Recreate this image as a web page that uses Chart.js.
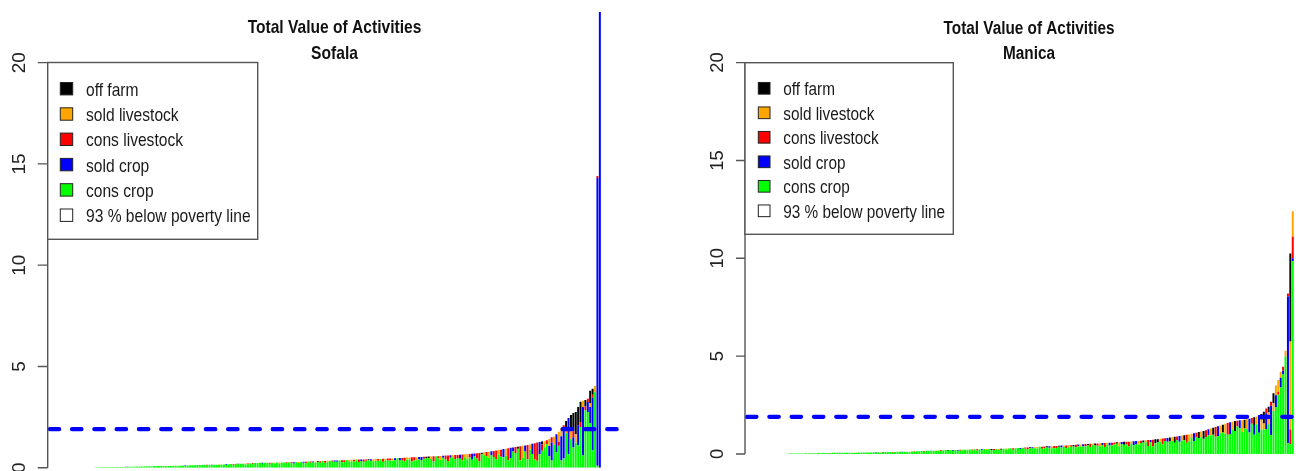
<!DOCTYPE html>
<html>
<head>
<meta charset="utf-8">
<script src="https://cdn.jsdelivr.net/npm/chart.js@4.4.1/dist/chart.umd.min.js"></script>
<style>
  html, body { margin: 0; padding: 0; background: #fff; overflow: hidden; }
  #wrap { position: relative; width: 1298px; height: 471px; overflow: hidden; }
  canvas { position: absolute; top: 0; }
  #sofala { left: 0; }
  #manica { left: 650px; }
</style>
</head>
<body>
<div id="wrap">
  <canvas id="sofala" width="649" height="471"></canvas>
  <canvas id="manica" width="680" height="471"></canvas>
</div>
<script>
// households sorted by total value, one bar each
const chartTitle = 'Total Value of Activities';
const regions = ['Sofala', 'Manica'];
const belowPovertyPct = [93, 93];
const povertyLine = 1.9;
const yTicks = [0, 5, 10, 15, 20];

// legend order (top to bottom) = stacking order reversed
const seriesNames = ['off farm', 'sold livestock', 'cons livestock', 'sold crop', 'cons crop'];
const seriesColors = ['#000000', '#FFA500', '#FF0000', '#0000FF', '#00FF00'];

// ---- Sofala ----
const sofalaConsCrop = [
  .02,.02,.02,.03,.03,.03,.03,.03,.04,.04,
  .04,.02,.05,.03,.05,.05,.05,.06,.06,.06,
  .06,.07,.07,.07,.08,.08,.08,.08,.09,.06,
  .09,.09,.10,.10,.07,.10,.11,.08,.11,.12,
  .12,.12,.13,.13,.13,.14,.11,.14,.12,.15,
  .15,.13,.16,.16,.13,.17,.18,.14,.19,.16,
  .20,.20,.17,.17,.22,.17,.23,.23,.24,.19,
  .24,.25,.19,.25,.21,.26,.21,.26,.26,.22,
  .27,.22,.21,.28,.23,.28,.24,.22,.30,.24,
  .26,.26,.28,.24,.33,.25,.27,.34,.29,.29,
  .29,.36,.27,.27,.38,.32,.31,.31,.40,.28,
  .33,.29,.34,.37,.34,.32,.33,.34,.43,.29,
  .36,.35,.35,.34,.37,.47,.38,.36,.31,.40,
  .40,.31,.36,.37,.41,.38,.44,.48,.47,.43,
  .31,.57,.45,.38,.49,.40,.30,.49,.52,.43,
  .48,.44,.35,.51,.42,.50,.39,.55,.46,.33,
  .66,.61,.58,.49,.61,.53,.40,.67,.54,.52,
  .59,.36,.48,.80,.72,.94,.36,.48,.80,.42,
  .90,.68,.41,.34,.67,.84,1.01,1.16,.57,.35,
  1.13,.75,1.08,.35,.45,1.70,.65,1.40,1.00,1.25,
  1.10,2.01,.60,2.84,2.75,2.20,.85,3.73,.10,0
];
const sofalaSoldCrop = [
  0,0,0,0,0,0,0,0,0,0,
  0,0,0,.02,0,0,0,0,0,0,
  0,0,0,0,0,0,0,0,0,0,
  0,0,0,0,0,0,0,.03,0,0,
  0,0,0,0,0,0,0,0,.03,0,
  0,0,0,0,.04,0,0,0,0,0,
  0,0,0,0,0,0,0,0,0,.05,
  0,0,0,0,0,0,0,0,0,0,
  0,0,.06,0,0,0,.05,0,0,0,
  .05,0,0,0,0,0,0,0,0,.06,
  .07,0,0,0,0,0,0,0,0,0,
  .08,0,0,0,.08,0,0,0,0,0,
  0,0,0,0,.10,0,.10,0,0,0,
  0,0,0,0,.12,.15,0,0,0,0,
  0,0,0,0,.10,0,0,.12,0,0,
  0,.20,0,0,0,0,.30,.15,0,0,
  0,0,0,0,.20,0,0,0,0,.40,
  0,0,.50,.20,0,0,0,0,.30,0,
  0,.50,0,0,.60,0,0,0,.50,.90,
  0,.90,0,1.2,1.5,0,1.8,0,.50,0,
  1.0,0,2.4,0,.50,.80,2.6,0,14.2,22.6
];
const sofalaConsLivestock = [
  0,0,0,0,0,0,0,0,0,0,
  0,.02,0,0,0,0,0,0,0,0,
  0,0,0,0,0,0,0,0,0,.03,
  0,0,0,0,0,0,0,0,0,0,
  0,0,0,0,0,0,.03,0,0,0,
  0,0,0,0,0,0,0,.04,0,0,
  0,0,0,.04,0,.05,0,0,0,0,
  0,0,.06,0,0,0,0,0,0,.05,
  0,.05,0,0,0,0,0,.07,0,.06,
  0,0,0,.08,0,.08,0,0,.06,0,
  0,0,.10,.10,0,0,0,.08,0,.12,
  0,.12,.07,0,0,0,0,.09,0,.15,
  0,.10,.10,0,0,0,0,.12,.18,0,
  0,.20,.15,0,0,0,.10,0,0,0,
  .25,0,.12,0,0,.20,.30,0,0,.20,
  .15,0,.30,0,0,.18,0,0,.25,.40,
  0,0,.20,0,0,.30,.45,0,.35,0,
  0,.60,0,0,.30,0,.70,0,0,.70,
  0,0,.80,.90,0,.30,0,.20,0,.25,
  0,0,.20,0,.15,0,0,0,.30,0,
  0,.25,0,.20,.15,0,.15,0,.10,0
];
const sofalaSoldLivestock = [
  0,0,0,0,0,0,0,0,0,0,
  0,0,0,0,0,0,0,0,0,0,
  0,0,0,0,0,0,0,0,0,0,
  0,0,0,0,.03,0,0,0,0,0,
  0,0,0,0,0,0,0,0,0,0,
  0,.03,0,0,0,0,0,0,0,0,
  0,0,.04,0,0,0,0,0,0,0,
  0,0,0,0,.04,0,.05,0,0,0,
  0,0,0,0,.05,0,0,0,0,0,
  0,.05,0,0,0,0,.07,0,0,0,
  0,0,0,0,0,.06,.08,0,0,0,
  0,0,0,0,0,.10,.10,0,0,0,
  .08,0,0,.12,0,0,0,0,0,.10,
  .10,0,0,.15,0,0,0,0,0,.12,
  0,0,0,.20,0,0,0,0,.10,0,
  0,0,0,.15,.25,0,0,0,0,0,
  0,.15,0,.30,0,0,0,.20,0,0,
  .35,0,0,0,0,0,0,.60,0,0,
  .25,0,0,0,0,0,.30,0,.35,0,
  .40,0,.50,.40,0,.30,0,.50,0,.40,
  0,0,.30,0,0,.20,0,.30,0,0
];
const sofalaOffFarm = [
  0,0,0,0,0,0,0,0,0,0,
  0,0,0,0,0,0,0,0,0,0,
  0,0,0,0,0,0,0,0,0,0,
  0,0,0,0,0,0,0,0,0,0,
  0,0,0,0,0,0,0,0,0,0,
  0,0,0,0,0,0,0,0,0,.03,
  0,0,0,0,0,0,0,0,0,0,
  0,0,0,0,0,0,0,0,0,0,
  0,0,0,0,0,0,0,0,0,0,
  0,0,.04,0,0,0,0,0,0,0,
  0,0,0,0,0,0,0,0,0,0,
  0,0,0,.05,0,0,0,0,0,0,
  0,0,0,0,0,0,0,0,0,0,
  0,0,0,0,0,0,0,.06,.08,0,
  0,0,0,0,0,0,0,0,0,0,
  0,0,0,0,0,0,0,0,0,0,
  .08,0,0,0,0,0,0,0,0,0,
  0,0,0,0,0,.10,0,0,0,0,
  0,0,0,0,0,.15,0,0,0,0,
  0,0,0,0,0,.30,0,.70,.90,1.1,
  .90,1.0,0,.30,0,.60,.30,0,0,0
];

// ---- Manica ----
const manicaConsCrop = [
  .02,.02,.03,.03,.02,.03,.03,.04,.03,.04,
  .04,.04,.05,.04,.05,.05,.05,.03,.06,.06,
  .06,.04,.06,.06,.07,.07,.07,.05,.07,.08,
  .08,.08,.06,.08,.08,.09,.07,.09,.07,.07,
  .10,.10,.10,.07,.10,.11,.11,.08,.12,.12,
  .09,.13,.10,.14,.14,.15,.12,.16,.16,.14,
  .17,.15,.18,.15,.19,.20,.17,.20,.17,.21,
  .17,.17,.22,.22,.19,.23,.18,.24,.18,.24,
  .19,.25,.20,.25,.21,.21,.26,.21,.22,.27,
  .23,.28,.29,.22,.30,.31,.25,.32,.27,.25,
  .30,.28,.29,.28,.37,.27,.30,.33,.32,.30,
  .29,.31,.37,.33,.36,.29,.35,.37,.38,.35,
  .40,.37,.38,.41,.45,.34,.45,.44,.42,.40,
  .46,.36,.47,.43,.43,.49,.52,.40,.51,.47,
  .48,.38,.52,.45,.51,.47,.56,.59,.60,.41,
  .60,.38,.55,.61,.63,.49,.66,.62,.64,.66,
  .58,.70,.62,.69,.71,.58,.65,.83,.66,.84,
  .82,.85,.78,.87,.96,.95,.99,.88,.92,1.06,
  1.10,1.05,.98,1.02,1.25,1.18,1.40,1.32,1.13,1.30,
  1.27,1.10,1.54,.98,1.52,1.08,1.25,1.26,1.28,1.52,
  .97,2.20,2.40,3.03,3.40,4.06,4.98,.55,.50,9.85
];
const manicaSoldCrop = [
  0,0,0,0,.01,0,0,0,0,0,
  0,0,0,0,0,0,0,0,0,0,
  0,.02,0,0,0,0,0,0,0,0,
  0,0,0,0,0,0,.02,0,0,0,
  0,0,0,0,0,0,0,.03,0,0,
  0,0,0,0,0,0,0,0,0,.03,
  0,0,0,0,0,0,0,0,.04,0,
  .04,0,0,0,0,0,0,0,0,0,
  .05,0,0,0,0,0,0,0,0,0,
  0,0,0,0,0,0,.06,0,0,0,
  0,.06,0,0,0,0,0,0,.07,0,
  0,0,0,.10,0,0,0,0,0,0,
  .08,0,.12,0,0,0,0,0,0,0,
  .10,0,0,.15,0,0,0,0,.10,0,
  0,0,0,.20,.15,0,0,0,0,0,
  .12,0,0,0,0,0,0,.20,0,0,
  0,0,.30,0,0,0,0,0,.40,0,
  0,0,0,0,.30,0,0,0,.50,0,
  0,0,0,.60,0,0,0,.40,0,0,
  0,.70,0,.50,0,.90,0,0,.80,0,
  1.5,0,.60,0,.50,.20,0,7.5,0,.15
];
const manicaConsLivestock = [
  0,0,0,0,0,0,0,0,.01,0,
  0,0,0,0,0,0,0,.02,0,0,
  0,0,0,0,0,0,0,0,0,0,
  0,0,.02,0,0,0,0,0,0,0,
  0,0,0,.03,0,0,0,0,0,0,
  0,0,.03,0,0,0,.03,0,0,0,
  0,0,0,.04,0,0,0,0,0,0,
  0,.05,0,0,0,0,.05,0,.06,0,
  0,0,0,0,0,.05,0,0,0,0,
  0,0,0,.07,0,0,0,0,.06,.08,
  0,0,0,0,0,.10,.08,0,0,0,
  .12,.10,0,0,0,.15,0,.08,0,.12,
  0,0,0,.10,0,.18,0,0,.12,0,
  0,.20,0,0,.15,.10,0,0,0,0,
  .15,.25,0,0,0,0,.12,0,0,.30,
  0,.35,0,0,0,.30,.15,0,0,0,
  0,.20,0,0,0,.40,0,0,0,.25,
  0,0,0,.35,0,0,0,.50,0,0,
  0,0,.60,0,0,0,.30,0,0,0,
  0,0,.30,0,0,0,0,0,.25,0,
  .20,0,0,.15,0,.20,0,.15,.75,1.1
];
const manicaSoldLivestock = [
  0,0,0,0,0,0,0,0,0,0,
  0,0,0,.01,0,0,0,0,0,0,
  0,0,0,0,0,0,0,.02,0,0,
  0,0,0,0,0,0,0,0,.02,0,
  0,0,0,0,0,0,0,0,0,0,
  .03,0,0,0,0,0,0,0,0,0,
  0,.03,0,0,0,0,0,0,0,0,
  0,0,0,0,.04,0,0,0,0,0,
  0,0,.05,0,0,0,0,.05,0,0,
  .05,0,0,0,0,0,0,0,0,0,
  0,0,.06,.08,0,0,0,0,0,.10,
  0,0,0,0,.07,0,.10,0,0,0,
  0,.12,0,0,0,0,.08,0,0,.15,
  0,0,.10,0,0,0,0,.20,0,0,
  0,0,.12,0,0,.20,0,0,.10,0,
  0,0,0,0,.15,0,0,0,0,.20,
  0,0,0,.25,0,0,.35,.20,0,0,
  0,.30,0,0,0,.35,0,0,0,.40,
  0,.50,0,0,.40,0,0,0,.60,0,
  .50,0,0,0,.40,0,.50,.30,0,.60,
  0,.40,.50,.60,.30,0,.30,0,4.5,1.3
];
const manicaOffFarm = [
  0,0,0,0,0,0,0,0,0,0,
  0,0,0,0,0,0,0,0,0,0,
  0,0,0,0,0,0,0,0,0,0,
  0,0,0,0,0,0,0,0,0,.02,
  0,0,0,0,0,0,0,0,0,0,
  0,0,0,0,0,0,0,0,0,0,
  0,0,0,0,0,0,.03,0,0,0,
  0,0,0,0,0,0,0,0,0,0,
  0,0,0,0,.04,0,0,0,.05,0,
  0,0,0,0,0,0,0,0,0,0,
  .04,0,0,0,0,0,0,.06,0,0,
  0,0,.05,0,0,0,0,0,.08,0,
  0,0,0,0,.06,0,0,.10,0,0,
  0,0,0,0,0,0,.08,0,0,.15,
  0,0,0,0,0,0,0,.10,0,0,
  0,0,.20,.15,0,0,0,0,.20,0,
  .30,0,0,0,.25,0,0,0,0,0,
  .30,0,.40,0,0,0,.35,0,0,0,
  .40,0,0,0,0,.50,0,0,0,.45,
  0,0,0,.40,0,0,.30,.60,0,.30,
  0,.50,0,0,0,0,0,0,4.5,0
];

// ---------- drawing ----------
function narrowText(ctx, text, x, y, size, bold, align) {
  ctx.save();
  ctx.font = (bold ? 'bold ' : '') + size + 'px "Liberation Sans", Arial, sans-serif';
  ctx.translate(x, y);
  ctx.scale(0.82, 1);
  ctx.textAlign = align;
  ctx.textBaseline = 'alphabetic';
  ctx.fillText(text, 0, 0);
  ctx.restore();
}

const decorations = {
  id: 'decorations',
  afterDatasetsDraw(chart, args, o) {
    const { ctx, chartArea } = chart;
    const y = chart.scales.y.getPixelForValue(povertyLine);
    ctx.save();
    ctx.beginPath();
    ctx.rect(chartArea.left, 0, chartArea.right - chartArea.left, chart.height);
    ctx.clip();
    ctx.strokeStyle = '#0000FF';
    ctx.lineWidth = 4.2;
    ctx.lineCap = 'round';
    ctx.setLineDash([9.5, 12.8]);
    ctx.beginPath();
    ctx.moveTo(chartArea.left + 2, y);
    ctx.lineTo(chartArea.right, y);
    ctx.stroke();
    ctx.restore();
  },
  afterDraw(chart, args, o) {
    const { ctx, chartArea } = chart;
    const ys = chart.scales.y;
    const ax = chartArea.left;
    ctx.save();
    // y axis
    ctx.strokeStyle = '#555';
    ctx.lineWidth = 1.4;
    ctx.beginPath();
    ctx.moveTo(ax, ys.getPixelForValue(yTicks[0]));
    ctx.lineTo(ax, ys.getPixelForValue(yTicks[yTicks.length - 1]));
    yTicks.forEach(v => {
      const p = ys.getPixelForValue(v);
      ctx.moveTo(ax - o.tickLen, p);
      ctx.lineTo(ax, p);
    });
    ctx.stroke();
    ctx.fillStyle = '#222';
    ctx.font = o.tickSize + 'px "Liberation Sans", Arial, sans-serif';
    ctx.textAlign = 'center';
    ctx.textBaseline = 'middle';
    yTicks.forEach(v => {
      ctx.save();
      ctx.translate(o.tickLabelX, ys.getPixelForValue(v));
      ctx.rotate(-Math.PI / 2);
      ctx.fillText(String(v), 0, 0);
      ctx.restore();
    });
    // legend
    const [bx0, by0, bx1, by1] = o.legendBox;
    ctx.fillStyle = '#fff';
    ctx.fillRect(bx0, by0, bx1 - bx0, by1 - by0);
    ctx.strokeStyle = '#555';
    ctx.lineWidth = 1.4;
    ctx.strokeRect(bx0, by0, bx1 - bx0, by1 - by0);
    const names = seriesNames.concat([o.pct + ' % below poverty line']);
    const fills = seriesColors.concat(['#FFFFFF']);
    names.forEach((n, k) => {
      const cy = o.legendRow0 + k * o.legendStep;
      ctx.fillStyle = fills[k];
      ctx.fillRect(o.swatchX, cy - o.swatch / 2, o.swatch, o.swatch);
      ctx.strokeStyle = '#222';
      ctx.lineWidth = 1;
      ctx.strokeRect(o.swatchX, cy - o.swatch / 2, o.swatch, o.swatch);
      ctx.fillStyle = '#1a1a1a';
      narrowText(ctx, n, o.legendTextX, cy + 7, o.legendSize, false, 'left');
    });
    // title
    ctx.fillStyle = '#111';
    narrowText(ctx, chartTitle, o.titleX, o.titleY[0], o.titleSize, true, 'center');
    narrowText(ctx, o.region, o.titleX, o.titleY[1], o.titleSize, true, 'center');
    ctx.restore();
  }
};

function makePanel(canvasId, stacks, geo, look) {
  const n = stacks[0].length;
  const householdRank = Array.from({ length: n }, (_, i) => i + 1);
  // stacking bottom -> top: cons crop, sold crop, cons livestock, sold livestock, off farm
  const order = [4, 3, 2, 1, 0];
  const datasets = order.map((s, k) => ({
    label: seriesNames[s],
    data: stacks[k],
    backgroundColor: seriesColors[s],
    borderWidth: 0,
    categoryPercentage: 1,
    barPercentage: 0.83,
    clip: 0
  }));
  return new Chart(document.getElementById(canvasId), {
    type: 'bar',
    data: { labels: householdRank, datasets },
    options: {
      responsive: false,
      animation: false,
      devicePixelRatio: 1,
      events: [],
      layout: { padding: geo.padding },
      scales: {
        x: { type: 'linear', display: false, stacked: true, offset: false, min: geo.xMin, max: geo.xMax },
        y: { display: false, stacked: true, min: 0, max: 22.5 }
      },
      plugins: {
        legend: { display: false },
        tooltip: { enabled: false },
        title: { display: false },
        decorations: look
      }
    },
    plugins: [decorations]
  });
}

makePanel('sofala',
  [sofalaConsCrop, sofalaSoldCrop, sofalaConsLivestock, sofalaSoldLivestock, sofalaOffFarm],
  { padding: { left: 47.7, right: 27.7, top: 12, bottom: 3.3 }, xMin: -19.1, xMax: 218.9 },
  { region: regions[0], pct: belowPovertyPct[0],
    titleX: 334.5, titleY: [32.5, 58.5], titleSize: 19,
    tickSize: 19, tickLabelX: 20, tickLen: 10,
    legendBox: [47.7, 62.5, 257.7, 239.3], legendRow0: 88.7, legendStep: 25.3,
    swatchX: 60.3, swatch: 12.4, legendTextX: 86, legendSize: 19 });

makePanel('manica',
  [manicaConsCrop, manicaSoldCrop, manicaConsLivestock, manicaSoldLivestock, manicaOffFarm],
  { padding: { left: 95, right: 17, top: 13.7, bottom: 17 }, xMin: -17.3, xMax: 218.4 },
  { region: regions[1], pct: belowPovertyPct[1],
    titleX: 379, titleY: [34.3, 59], titleSize: 18.7,
    tickSize: 18.4, tickLabelX: 67.8, tickLen: 9,
    legendBox: [95, 62.7, 303.3, 234.3], legendRow0: 88.3, legendStep: 24.5,
    swatchX: 108.3, swatch: 11.7, legendTextX: 133.3, legendSize: 18.7 });
</script>
</body>
</html>
